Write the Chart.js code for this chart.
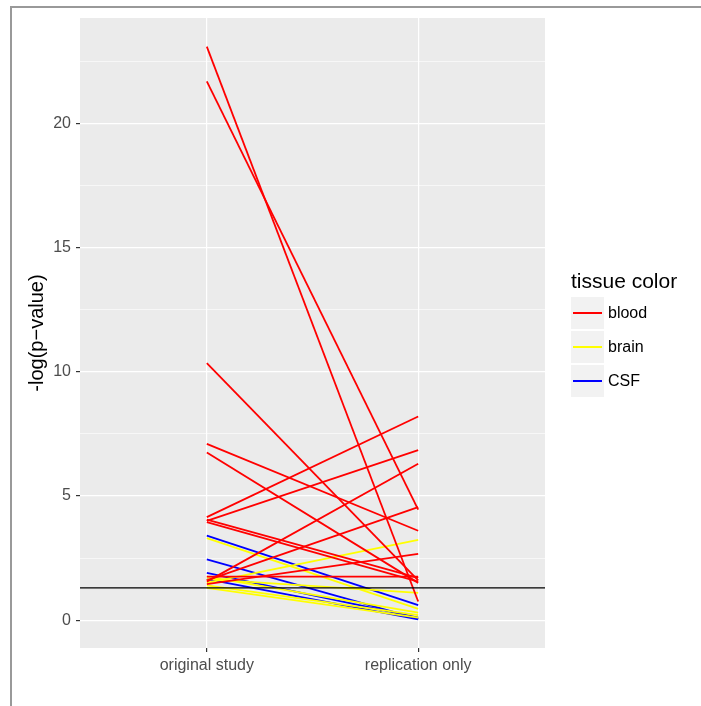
<!DOCTYPE html>
<html>
<head>
<meta charset="utf-8">
<script src="https://cdn.jsdelivr.net/npm/chart.js@4"></script>
<style>
  body { margin: 0; background: #fff; font-family: "Liberation Sans", Arial, sans-serif; }
  #wrap { position: relative; width: 701px; height: 706px; overflow: hidden; }
  #frame { position: absolute; left: 10px; top: 6px; width: 720px; height: 720px; border-left: 2px solid #999; border-top: 2px solid #999; }
  #legend { position: absolute; left: 571px; top: 268px; }
  #legend .title { font-size: 21px; color: #000; line-height: 26px; margin-bottom: 2px; }
  #legend .row { display: flex; align-items: center; height: 34px; }
  #legend .key { width: 33px; height: 32px; background: #f2f2f2; position: relative; margin-right: 4px; }
  #legend .key i { position: absolute; left: 2px; right: 2px; top: 15px; height: 2px; }
  #legend .lab { font-size: 16px; color: #000; }
</style>
</head>
<body>
<div id="wrap">
  <div id="frame"></div>
  <canvas id="c" width="701" height="706"></canvas>
  <div id="legend"></div>
</div>
<script>
const categories = ['original study', 'replication only'];
const tissueLevels = ['blood', 'brain', 'CSF'];
const tissueColors = ['#ff0000', '#ffff00', '#0000ff'];

// one entry per gene / line
const tissue = [
  'blood', 'blood', 'blood', 'blood', 'blood', 'blood', 'blood', 'blood', 'blood', 'blood', 'blood', 'blood', 'blood',
  'brain', 'brain', 'brain', 'brain', 'brain', 'brain',
  'CSF', 'CSF', 'CSF', 'CSF'
];
const originalStudy = [
  23.1, 21.7, 10.35, 7.1, 6.75, 4.15, 4.0, 4.05, 3.95, 1.55, 1.6, 1.45, 1.75,
  3.3, 1.5, 1.65, 1.75, 1.4, 1.3,
  3.4, 2.45, 1.9, 1.65
];
const replicationOnly = [
  0.75, 4.45, 1.6, 3.6, 1.5, 8.2, 6.85, 1.7, 1.55, 6.3, 4.55, 2.67, 1.75,
  0.45, 3.23, 1.1, 0.3, 0.2, 0.1,
  0.6, 0.05, 0.1, 0.03
];
const threshold = 1.3;
const yTicks = [0, 5, 10, 15, 20];

const datasets = tissue.map((t, i) => ({
  data: [{ x: 1, y: originalStudy[i] }, { x: 2, y: replicationOnly[i] }],
  borderColor: tissueColors[tissueLevels.indexOf(t)],
  borderWidth: 1.8,
  pointRadius: 0,
  fill: false
}));

const dataMax = Math.max(...originalStudy, ...replicationOnly);
const dataMin = Math.min(...originalStudy, ...replicationOnly);
const pad = (dataMax - dataMin) * 0.05;

const panelBg = {
  id: 'panelBg',
  beforeDraw(chart) {
    const { ctx, chartArea: a } = chart;
    ctx.save();
    ctx.fillStyle = '#ebebeb';
    ctx.fillRect(a.left, a.top, a.right - a.left, a.bottom - a.top);
    ctx.restore();
  }
};

const hline = {
  id: 'hline',
  afterDatasetsDraw(chart) {
    const { ctx, chartArea: a, scales } = chart;
    const y = scales.y.getPixelForValue(threshold);
    ctx.save();
    ctx.strokeStyle = '#000';
    ctx.lineWidth = 1.4;
    ctx.beginPath(); ctx.moveTo(a.left, y); ctx.lineTo(a.right, y); ctx.stroke();
    ctx.restore();
  }
};

const isMajor = v => yTicks.includes(v);

new Chart(document.getElementById('c'), {
  type: 'line',
  data: { datasets },
  options: {
    responsive: false,
    animation: false,
    layout: { padding: { left: 25, top: 18, right: 156, bottom: 0 } },
    plugins: { legend: { display: false }, tooltip: { enabled: false } },
    scales: {
      x: {
        type: 'linear', min: 0.4, max: 2.6,
        border: { display: false },
        afterFit: s => { s.height = 58; },
        grid: { color: '#ffffff', lineWidth: 1.2, tickLength: 4, tickColor: '#333' },
        ticks: {
          stepSize: 1, includeBounds: false, padding: 4, maxRotation: 0,
          color: '#4d4d4d', font: { family: 'Liberation Sans', size: 16 },
          callback: v => categories[v - 1] || ''
        }
      },
      y: {
        min: dataMin - pad, max: dataMax + pad,
        border: { display: false },
        afterFit: s => { s.width = 55; },
        grid: {
          color: '#ffffff',
          lineWidth: c => isMajor(c.tick && c.tick.value) ? 1.2 : 0.6,
          tickLength: 4,
          tickColor: c => isMajor(c.tick && c.tick.value) ? '#333' : 'rgba(0,0,0,0)'
        },
        title: { display: true, text: '-log(p\u2212value)', color: '#000', font: { family: 'Liberation Sans', size: 20 }, padding: { top: 0, bottom: 4 } },
        ticks: {
          stepSize: 2.5, includeBounds: false, padding: 5,
          color: '#4d4d4d', font: { family: 'Liberation Sans', size: 16 },
          callback: v => isMajor(v) ? String(v) : ''
        }
      }
    }
  },
  plugins: [panelBg, hline]
});

const lg = document.getElementById('legend');
lg.innerHTML = '<div class="title">tissue color</div>' + tissueLevels.map((t, i) =>
  `<div class="row"><div class="key"><i style="background:${tissueColors[i]}"></i></div><span class="lab">${t}</span></div>`).join('');
</script>
</body>
</html>
